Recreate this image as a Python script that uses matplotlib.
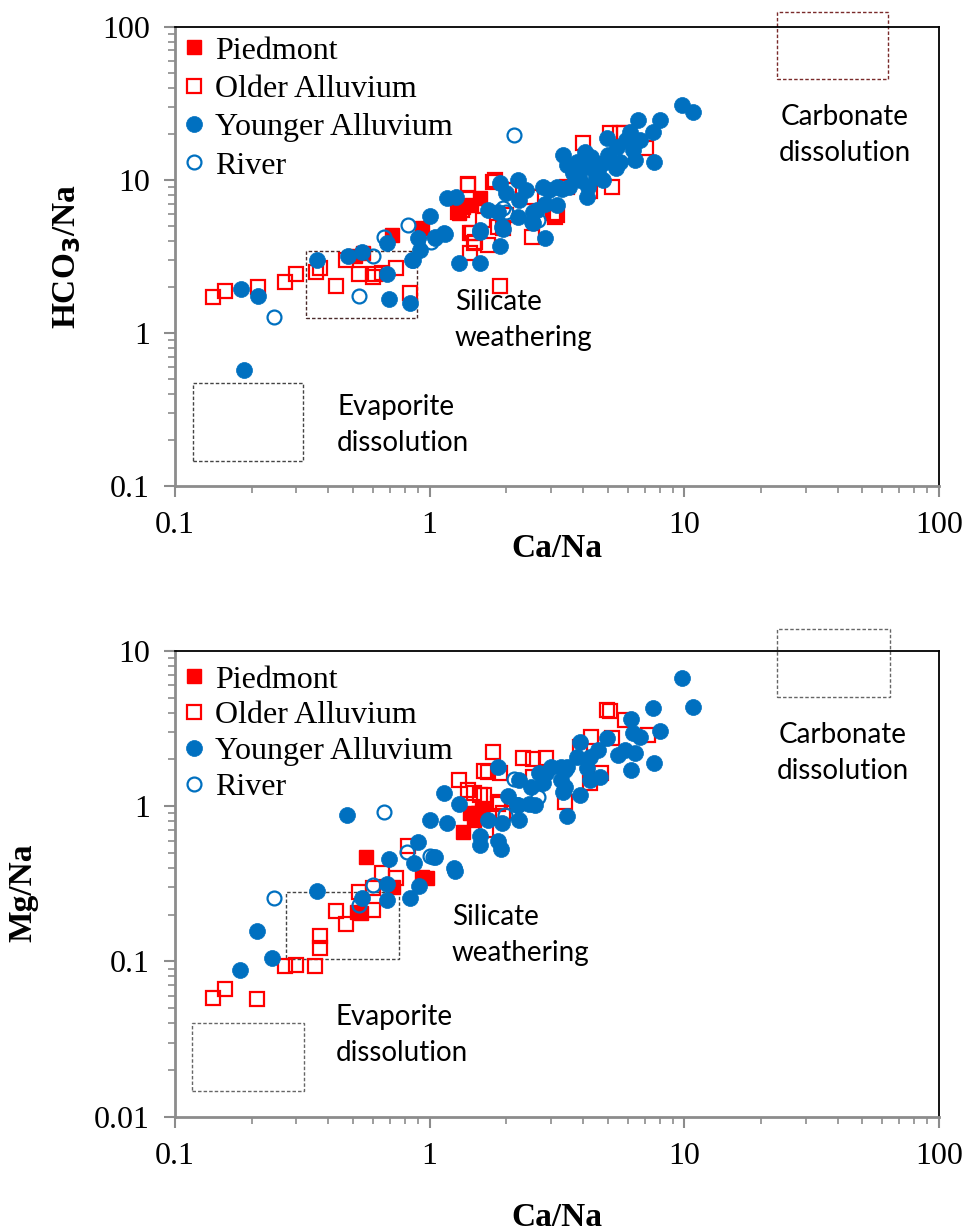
import matplotlib
matplotlib.use("Agg")
import matplotlib.pyplot as plt
from matplotlib.patches import Rectangle
from matplotlib.ticker import LogLocator, FixedLocator, NullFormatter

# ---------------- data: top panel (Ca/Na vs HCO3/Na) ----------------
pied_top_x = [0.51, 0.548, 0.709, 0.935, 1.31, 1.35, 1.46, 1.58]
pied_top_y = [3.16, 3.31, 4.36, 4.82, 6.05, 6.67, 6.85, 7.57]

older_top_x = [0.141, 0.157, 0.211, 0.270, 0.298, 0.357, 0.372, 0.427, 0.468, 0.528,
               0.597, 0.61, 0.651, 0.735, 0.837, 1.29, 1.335, 1.41, 1.42, 1.44,
               1.44, 1.47, 1.49, 1.51, 1.62, 1.70, 1.77, 1.8, 1.86, 1.89,
               1.94, 2.0, 2.05, 2.5, 2.52, 3.04, 3.15, 3.45, 3.99, 4.28,
               5.1, 5.2, 5.6, 5.8, 7.1, 3.1]
older_top_y = [1.71, 1.89, 2.0, 2.16, 2.41, 2.49, 2.67, 2.03, 2.99, 2.41,
               2.33, 2.44, 2.47, 2.64, 1.81, 6.2, 6.35, 9.39, 9.2, 4.46,
               3.31, 4.47, 3.84, 3.94, 5.5, 3.75, 9.72, 10.0, 4.94, 2.02,
               4.82, 5.9, 8.6, 7.76, 4.25, 6.05, 5.9, 9.0, 17.3, 8.4,
               20.1, 9.0, 20.1, 20.1, 16.1, 5.74]

young_top_x = [0.1816, 0.211, 0.187, 0.36, 0.476, 0.545, 0.678, 0.69, 0.84, 0.678,
               0.863, 0.9, 0.915, 1.0, 1.05, 1.145, 1.165, 1.27, 1.31, 1.58,
               1.58, 1.89, 1.92, 1.89, 2.23, 2.23, 1.70, 1.86, 2.84, 2.52,
               2.25, 2.63, 3.15, 2.4, 2.0, 2.78, 3.15, 3.54, 3.88, 3.66,
               4.14, 3.78, 3.45, 3.34, 4.07, 4.5, 4.14, 4.8, 4.8, 5.4,
               6.4, 6.3, 5.43, 4.95, 6.69, 5.93, 6.11, 7.55, 7.6, 8.0,
               6.6, 9.76, 10.78, 2.95, 2.84, 2.55, 2.55, 1.94, 1.58, 1.14,
               1.05, 0.85, 4.3, 5.0, 5.6, 4.6, 3.9, 3.3, 4.2]
young_top_y = [1.93, 1.74, 0.573, 2.99, 3.19, 3.36, 2.44, 1.66, 1.57, 3.88,
               2.99, 4.15, 3.49, 5.83, 4.25, 4.43, 7.57, 7.76, 2.88, 2.88,
               4.58, 9.49, 4.94, 3.67, 9.97, 5.74, 6.35, 6.19, 4.15, 5.33,
               7.38, 6.35, 6.85, 8.6, 8.2, 9.0, 9.0, 9.0, 10.0, 11.0,
               12.2, 13.1, 12.5, 14.5, 15.3, 10.5, 7.76, 10.0, 12.8, 11.9,
               13.5, 15.7, 16.4, 18.7, 18.2, 18.2, 20.6, 20.6, 13.1, 24.6,
               24.6, 30.8, 27.9, 8.6, 7.0, 6.2, 5.2, 4.8, 4.7, 4.46,
               4.15, 2.99, 14.0, 14.5, 13.0, 11.5, 12.0, 8.7, 9.0]

river_top_x = [0.245, 0.53, 0.60, 0.66, 0.82, 1.01, 2.0, 2.67, 2.14, 1.94]
river_top_y = [1.27, 1.73, 3.19, 4.25, 5.1, 3.94, 6.2, 5.5, 19.7, 6.5]

# ---------------- data: bottom panel (Ca/Na vs Mg/Na) ----------------
pied_bot_x = [0.517, 0.54, 0.561, 0.72, 0.93, 0.975, 1.355, 1.44, 1.49, 1.55, 1.6]
pied_bot_y = [0.209, 0.204, 0.469, 0.303, 0.348, 0.343, 0.685, 0.90, 0.815, 0.90, 0.94]

older_bot_x = [0.141, 0.157, 0.21, 0.27, 0.30, 0.355, 0.37, 0.372, 0.43, 0.47,
               0.53, 0.60, 0.60, 0.65, 0.735, 0.82, 1.3, 1.41, 1.49, 1.58,
               1.64, 1.64, 1.7, 1.78, 1.89, 1.89, 1.86, 1.94, 1.67, 2.32,
               2.55, 2.87, 2.55, 3.4, 3.9, 4.28, 4.3, 4.73, 4.95, 5.1,
               5.2, 5.85, 7.2]
older_bot_y = [0.0585, 0.0668, 0.057, 0.094, 0.095, 0.093, 0.122, 0.145, 0.21, 0.174,
               0.28, 0.215, 0.297, 0.37, 0.343, 0.55, 1.48, 1.28, 1.21, 1.18,
               1.18, 1.69, 1.67, 2.22, 1.63, 1.07, 1.04, 0.90, 0.70, 2.04,
               2.0, 2.04, 1.54, 1.07, 2.42, 1.40, 2.8, 1.63, 4.17, 4.1,
               2.74, 3.6, 2.88]

young_bot_x = [0.18, 0.21, 0.24, 0.36, 0.475, 0.545, 0.678, 0.678, 0.69, 0.84,
               0.865, 0.9, 0.91, 1.0, 1.05, 1.165, 1.14, 1.26, 1.31, 1.58,
               1.58, 1.86, 1.9, 1.86, 1.7, 1.93, 2.04, 2.23, 2.25, 2.45,
               2.25, 2.5, 2.7, 3.0, 3.4, 3.4, 3.45, 2.78, 2.87, 3.27,
               3.45, 3.27, 3.34, 3.88, 4.14, 4.28, 4.65, 3.78, 4.28, 3.88,
               4.58, 4.95, 5.5, 5.85, 6.4, 6.2, 6.7, 6.3, 6.18, 7.6,
               8.0, 7.55, 9.76, 10.8, 1.25, 2.6, 2.2]
young_bot_y = [0.088, 0.158, 0.105, 0.285, 0.877, 0.255, 0.315, 0.249, 0.46, 0.255,
               0.432, 0.59, 0.306, 0.815, 0.47, 0.776, 1.21, 0.384, 1.04, 0.64,
               0.56, 0.60, 0.53, 1.8, 0.815, 0.776, 1.16, 1.02, 0.815, 1.04,
               1.48, 1.33, 1.63, 1.8, 1.7, 1.33, 0.86, 1.4, 1.63, 1.8,
               1.8, 1.48, 1.24, 1.18, 1.76, 1.48, 1.54, 2.08, 2.08, 2.6,
               2.3, 2.74, 2.14, 2.3, 2.19, 1.71, 2.8, 2.95, 3.63, 1.9,
               3.06, 4.27, 6.67, 4.38, 0.40, 1.02, 1.02]

river_bot_x = [0.245, 0.53, 0.6, 0.66, 0.815, 1.0, 1.03, 1.98, 2.14, 2.67]
river_bot_y = [0.255, 0.23, 0.31, 0.914, 0.509, 0.48, 0.47, 0.88, 1.49, 1.15]

series_labels = ["Piedmont", "Older Alluvium", "Younger Alluvium", "River"]

# dashed boxes: (x0, x1, y0, y1)
top_boxes = {"carb": (23.2, 63.2, 45.3, 124.0),
             "sil": (0.326, 0.889, 1.257, 3.44),
             "evap": (0.1173, 0.318, 0.1456, 0.471)}
bot_boxes = {"carb": (23.2, 64.0, 5.05, 13.9),
             "sil": (0.2735, 0.7556, 0.1036, 0.281),
             "evap": (0.1163, 0.3212, 0.01469, 0.0399)}

RED = "#FF0000"
BLUE = "#0070C0"
GRAY = "#8c8c8c"
SERIF = "Liberation Serif"
SANS = "Lato"

fig = plt.figure(figsize=(9.64, 12.31), dpi=100)
ax1 = fig.add_axes([0.1815, 0.6052, 0.7925, 0.3731])
ax2 = fig.add_axes([0.1815, 0.0929, 0.7925, 0.3783])


def style_axis(ax, ylim, yticks, ylabels):
    ax.set_xscale("log")
    ax.set_yscale("log")
    ax.set_xlim(0.1, 100)
    ax.set_ylim(*ylim)
    ax.xaxis.set_major_locator(FixedLocator([0.1, 1, 10, 100]))
    ax.set_xticklabels(["0.1", "1", "10", "100"])
    ax.yaxis.set_major_locator(FixedLocator(yticks))
    ax.set_yticklabels(ylabels)
    ax.xaxis.set_minor_locator(LogLocator(base=10, subs=range(2, 10)))
    ax.yaxis.set_minor_locator(LogLocator(base=10, subs=range(2, 10)))
    ax.xaxis.set_minor_formatter(NullFormatter())
    ax.yaxis.set_minor_formatter(NullFormatter())
    for s in ["left", "bottom"]:
        ax.spines[s].set_color(GRAY)
        ax.spines[s].set_linewidth(2.0)
    for s in ["top", "right"]:
        ax.spines[s].set_color("black")
        ax.spines[s].set_linewidth(1.3)
    ax.tick_params(which="major", direction="out", length=8, width=1.5, color=GRAY,
                   labelsize=23, pad=10)
    ax.tick_params(which="minor", direction="out", length=5, width=1.2, color=GRAY)
    for lab in ax.get_xticklabels() + ax.get_yticklabels():
        lab.set_fontfamily(SERIF)


def draw_series(ax, px, py, ox, oy, yx, yy, rx, ry, top_pad, spacing):
    ax.plot(ox, oy, ls="none", marker="s", ms=10.5, mfc="none", mec=RED, mew=1.6,
            label=series_labels[1], zorder=3)
    ax.plot(px, py, ls="none", marker="s", ms=10.5, mfc=RED, mec=RED, mew=1.0,
            label=series_labels[0], zorder=4)
    ax.plot(yx, yy, ls="none", marker="o", ms=11.5, mfc=BLUE, mec=BLUE, mew=0.5,
            label=series_labels[2], zorder=5)
    ax.plot(rx, ry, ls="none", marker="o", ms=10, mfc="none", mec=BLUE, mew=1.6,
            label=series_labels[3], zorder=6)
    h, l = ax.get_legend_handles_labels()
    order = [l.index(s) for s in series_labels]
    leg = ax.legend([h[i] for i in order], [l[i] for i in order], loc="upper left",
                    bbox_to_anchor=(0.0, top_pad), frameon=False, handlelength=0.6,
                    handletextpad=0.35, labelspacing=spacing, borderaxespad=0.0,
                    borderpad=0.3, prop={"family": SERIF, "size": 23})
    return leg


def draw_boxes(ax, boxes, colors):
    for key, (x0, x1, y0, y1) in boxes.items():
        r = Rectangle((x0, y0), x1 - x0, y1 - y0, fill=False, ec=colors[key], lw=1.0,
                      ls=(0, (2.5, 1.5)), clip_on=False, zorder=2)
        ax.add_patch(r)


def annot(fx, fy, lines, ha):
    fig.text(fx, fy, lines, ha=ha, va="center", fontfamily=SANS, fontsize=20,
             linespacing=1.45)


def labels(ax, xl, yl, xcoord, ycoord):
    ax.set_xlabel(xl, fontfamily=SERIF, fontweight="bold", fontsize=24)
    ax.set_ylabel(yl, fontfamily=SERIF, fontweight="bold", fontsize=24)
    ax.xaxis.label.set_va("center")
    ax.yaxis.label.set_va("center")
    ax.xaxis.set_label_coords(*xcoord)
    ax.yaxis.set_label_coords(*ycoord)


# ---------------- top panel ----------------
style_axis(ax1, (0.1, 100), [0.1, 1, 10, 100], ["0.1", "1", "10", "100"])
draw_series(ax1, pied_top_x, pied_top_y, older_top_x, older_top_y,
            young_top_x, young_top_y, river_top_x, river_top_y, 1.0, 0.28)
draw_boxes(ax1, top_boxes, {"carb": "#7a2a2a", "sil": "#4a2a2a", "evap": "#444444"})
labels(ax1, "Ca/Na", "HCO$_\\mathbf{3}$/Na", (0.5, -0.135), (-0.1414, 0.50))

annot(845 / 964, 1 - 135 / 1231, "Carbonate\ndissolution", "center")
annot(455 / 964, 1 - 320 / 1231, "Silicate\nweathering", "left")
annot(337 / 964, 1 - 425 / 1231, "Evaporite\ndissolution", "left")

# ---------------- bottom panel ----------------
style_axis(ax2, (0.01, 10), [0.01, 0.1, 1, 10], ["0.01", "0.1", "1", "10"])
draw_series(ax2, pied_bot_x, pied_bot_y, older_bot_x, older_bot_y,
            young_bot_x, young_bot_y, river_bot_x, river_bot_y, 0.99, 0.2)
draw_boxes(ax2, bot_boxes, {"carb": "#666666", "sil": "#444444", "evap": "#666666"})
labels(ax2, "Ca/Na", "Mg/Na", (0.5, -0.2175), (-0.199, 0.48))

annot(843 / 964, 1 - 753 / 1231, "Carbonate\ndissolution", "center")
annot(452 / 964, 1 - 935 / 1231, "Silicate\nweathering", "left")
annot(336 / 964, 1 - 1035 / 1231, "Evaporite\ndissolution", "left")

fig.savefig("out.png", dpi=100)
